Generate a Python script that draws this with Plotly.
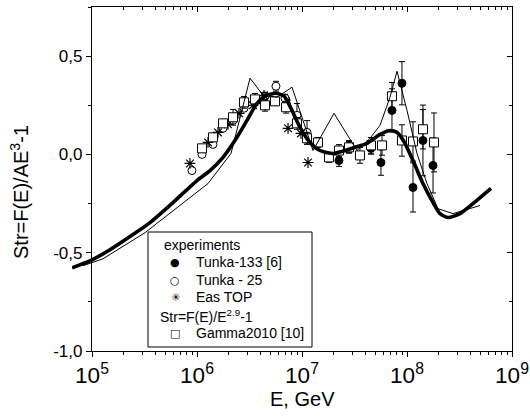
import numpy as np
import plotly.graph_objects as go

# ---------------- data (log10 E [GeV], Str) ----------------
thick_lgE = [4.81, 5.00, 5.171, 5.362, 5.552, 5.771, 6.00, 6.124, 6.248, 6.381, 6.476, 6.571,
             6.648, 6.752, 6.829, 6.895, 6.981, 7.076, 7.171, 7.295, 7.41, 7.505, 7.619,
             7.743, 7.838, 7.905, 7.971, 8.057, 8.152, 8.248, 8.314, 8.39, 8.505, 8.629, 8.80]
thick_val = [-0.577, -0.536, -0.485, -0.418, -0.347, -0.245, -0.133, -0.082, -0.015, 0.087,
             0.173, 0.26, 0.296, 0.311, 0.296, 0.235, 0.138, 0.061, 0.02, 0.005, 0.02, 0.036,
             0.056, 0.102, 0.122, 0.112, 0.066, -0.031, -0.148, -0.245, -0.301, -0.321,
             -0.301, -0.25, -0.173]

thin_lgE = [4.914, 5.105, 5.505, 6.105, 6.324, 6.505, 6.629, 6.762, 6.905, 7.105, 7.305, 7.524,
            7.648, 7.743, 7.838, 7.905, 8.0, 8.095, 8.19, 8.295, 8.438, 8.695]
thin_val = [-0.566, -0.531, -0.398, -0.148, 0.005, 0.388, 0.301, 0.291, 0.342, 0.02, 0.209,
            0.02, 0.082, 0.148, 0.291, 0.423, 0.224, 0.005, -0.148, -0.276, -0.301, -0.26]

tunka133_lgE = [6.848, 7.352, 7.448, 7.657, 7.752, 7.857, 7.952, 8.057, 8.152, 8.248]
tunka133_val = [0.276, -0.031, 0.041, 0.031, -0.041, 0.224, 0.362, -0.168, 0.071, -0.056]
tunka133_err = [0.02, 0.03, 0.03, 0.03, 0.065, 0.11, 0.11, 0.125, 0.18, 0.14]

tunka25_lgE = [5.952, 6.048, 6.152, 6.248, 6.343, 6.448, 6.648, 6.752, 6.838, 6.952, 7.048]
tunka25_val = [-0.082, 0.0, 0.051, 0.133, 0.173, 0.235, 0.296, 0.347, 0.286, 0.199, 0.112]
tunka25_err = [0.01, 0.01, 0.01, 0.01, 0.01, 0.01, 0.02, 0.025, 0.02, 0.06, 0.06]

eastop_lgE = [5.933, 6.105, 6.20, 6.295, 6.40, 6.533, 6.638, 6.867, 6.99, 7.057]
eastop_val = [-0.046, 0.061, 0.112, 0.153, 0.209, 0.25, 0.30, 0.133, 0.107, -0.041]

gamma_lgE = [6.048, 6.152, 6.248, 6.343, 6.448, 6.552, 6.648, 6.743, 6.848, 6.952, 7.048,
             7.152, 7.257, 7.352, 7.448, 7.552, 7.657, 7.762, 7.857, 7.952, 8.057, 8.152, 8.257]
gamma_val = [0.031, 0.087, 0.158, 0.189, 0.265, 0.28, 0.25, 0.27, 0.24, 0.158, 0.082, 0.061,
             -0.015, 0.02, 0.036, -0.005, 0.046, 0.046, 0.296, 0.071, 0.066, 0.128, 0.061]
gamma_err = [0.015, 0.015, 0.02, 0.04, 0.03, 0.03, 0.03, 0.02, 0.03, 0.03, 0.03, 0.025,
             0.025, 0.03, 0.03, 0.04, 0.04, 0.05, 0.07, 0.08, 0.1, 0.1, 0.15]

y_tickvals = [-1.0, -0.5, 0.0, 0.5]
y_ticktext = ["-1,0", "-0,5", "0,0", "0,5"]
y_minor = [-0.75, -0.25, 0.25, 0.75]

legend_rows = [("experiments", None), ("Tunka-133 [6]", "●"), ("Tunka - 25", "○"),
               ("Eas TOP", "✳\ufe0e"), ("Str=F(E)/E<sup>2.9</sup>-1", None),
               ("Gamma2010 [10]", "□")]

# ---------------- figure ----------------
FONT = "Arial, Liberation Sans, Helvetica, sans-serif"
W, H = 530, 417
ML, MR, MT, MB = 72, 18, 7, 66
AX_LEFT = 92  # pixel of the y axis
PW, PH = W - ML - MR, H - MT - MB
dom0 = (AX_LEFT - ML) / PW
px_per_dec = (W - MR - AX_LEFT) / 4.0
x3_start = 5 - (AX_LEFT - ML) / px_per_dec


def px(x):
    return (x - ML) / PW


def py(y):
    return (H - MB - y) / PH


def E(lg):
    return [10 ** v for v in lg]


def err(vals):
    return dict(type="data", array=vals, visible=True, color="black", thickness=1, width=3)


fig = go.Figure()

# curves (on an invisible axis extending a little left of the frame, as in the original)
fig.add_trace(go.Scatter(x=E(thin_lgE), y=thin_val, mode="lines", xaxis="x3", yaxis="y",
                         line=dict(color="black", width=1), showlegend=False, hoverinfo="skip"))
fig.add_trace(go.Scatter(x=E(thick_lgE), y=thick_val, mode="lines", xaxis="x3", yaxis="y",
                         line=dict(color="black", width=3.6, shape="spline", smoothing=0.6),
                         showlegend=False, hoverinfo="skip"))

fig.add_trace(go.Scatter(x=E(tunka133_lgE), y=tunka133_val, mode="markers", name="Tunka-133 [6]",
                         error_y=err(tunka133_err),
                         marker=dict(symbol="circle", size=8, color="black",
                                     line=dict(color="black", width=1))))
fig.add_trace(go.Scatter(x=E(tunka25_lgE), y=tunka25_val, mode="markers", name="Tunka - 25",
                         error_y=err(tunka25_err),
                         marker=dict(symbol="circle", size=8, color="white",
                                     line=dict(color="black", width=1))))
fig.add_trace(go.Scatter(x=E(eastop_lgE), y=eastop_val, mode="markers", name="Eas TOP",
                         marker=dict(symbol="asterisk-open", size=9, color="black",
                                     line=dict(color="black", width=1.2))))
fig.add_trace(go.Scatter(x=E(gamma_lgE), y=gamma_val, mode="markers", name="Gamma2010 [10]",
                         error_y=err(gamma_err),
                         marker=dict(symbol="square", size=9, color="white",
                                     line=dict(color="black", width=1))))

# dummy traces to activate the mirrored (inside-tick) top and right axes
fig.add_trace(go.Scatter(x=[], y=[], xaxis="x2", yaxis="y", showlegend=False, hoverinfo="skip"))
fig.add_trace(go.Scatter(x=[], y=[], xaxis="x", yaxis="y2", showlegend=False, hoverinfo="skip"))

axis_common = dict(showgrid=False, zeroline=False, showline=True, linecolor="black",
                   linewidth=1.3, tickcolor="black", tickwidth=1.2)

annotations = [
    dict(text="E, GeV", xref="paper", yref="paper", x=px(302), y=py(399),
         showarrow=False, font=dict(size=20), xanchor="center", yanchor="middle"),
    dict(text="Str=F(E)/AE<sup>3</sup>-1", xref="paper", yref="paper", x=px(19), y=py(192),
         showarrow=False, textangle=-90, font=dict(size=20),
         xanchor="center", yanchor="middle"),
]
row_y = [245, 262, 280, 297, 316, 333]
for (label, glyph), yy in zip(legend_rows, row_y):
    if glyph is None:
        xs = 162 if label == "experiments" else 158
        annotations.append(dict(text=label, xref="paper", yref="paper", x=px(xs), y=py(yy),
                                showarrow=False, xanchor="left", yanchor="middle",
                                font=dict(size=14)))
    else:
        annotations.append(dict(text=glyph, xref="paper", yref="paper", x=px(175), y=py(yy),
                                showarrow=False, xanchor="center", yanchor="middle",
                                font=dict(size=11, family="DejaVu Sans", color="black")))
        annotations.append(dict(text=label, xref="paper", yref="paper", x=px(194), y=py(yy),
                                showarrow=False, xanchor="left", yanchor="middle",
                                font=dict(size=14)))

fig.update_layout(
    width=W, height=H,
    margin=dict(l=ML, r=MR, t=MT, b=MB, autoexpand=False),
    paper_bgcolor="white", plot_bgcolor="rgba(0,0,0,0)",
    font=dict(family=FONT, color="black", size=14),
    showlegend=False,
    xaxis=dict(type="log", range=[5, 9], domain=[dom0, 1], anchor="y",
               tickmode="linear", tick0=0, dtick=1, exponentformat="power", showexponent="all",
               ticks="outside", ticklen=5, tickfont=dict(size=18),
               minor=dict(ticks="outside", ticklen=3, dtick="D1", tickcolor="black",
                          tickwidth=1), **axis_common),
    xaxis2=dict(type="log", range=[5, 9], overlaying="x", side="top", anchor="y",
                tickmode="linear", tick0=0, dtick=1, showticklabels=False,
                ticks="inside", ticklen=5,
                minor=dict(ticks="inside", ticklen=3, dtick="D1", tickcolor="black",
                           tickwidth=1), **axis_common),
    xaxis3=dict(type="log", range=[x3_start, 9], domain=[0, 1], anchor="y", visible=False,
                showgrid=False, zeroline=False),
    yaxis=dict(range=[-1.0, 0.75], domain=[0, 1], anchor="x",
               tickmode="array", tickvals=y_tickvals, ticktext=y_ticktext,
               ticks="outside", ticklen=5, tickfont=dict(size=17),
               minor=dict(ticks="outside", ticklen=3, tickvals=y_minor, tickcolor="black",
                          tickwidth=1), **axis_common),
    yaxis2=dict(range=[-1.0, 0.75], overlaying="y", side="right", anchor="x",
                tickmode="array", tickvals=y_tickvals, showticklabels=False,
                ticks="inside", ticklen=5,
                minor=dict(ticks="inside", ticklen=3, tickvals=y_minor, tickcolor="black",
                           tickwidth=1), **axis_common),
    shapes=[dict(type="rect", xref="paper", yref="paper", x0=px(148), x1=px(312),
                 y0=py(347), y1=py(232), line=dict(color="black", width=1),
                 fillcolor="white", layer="above")],
    annotations=annotations,
)

# the page's default 8px body margin would shift the chart; remove it
fig.write_html("out.html", config={"displayModeBar": False},
               post_script="document.body.style.margin='0px';"
                           "document.body.style.overflow='hidden';")
